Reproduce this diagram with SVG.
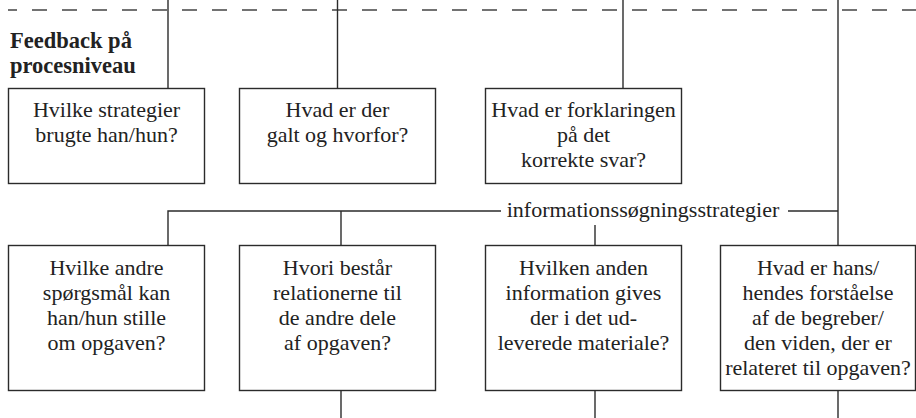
<svg xmlns="http://www.w3.org/2000/svg" width="916" height="418" viewBox="0 0 916 418">
<style>
.box{fill:#fff;stroke:#2b2b2b;stroke-width:1.4}
.ln{fill:none;stroke:#2b2b2b;stroke-width:1.4}
.dash{fill:none;stroke:#444;stroke-width:1.4;stroke-dasharray:15 15;stroke-dashoffset:6}
text{font-family:'Liberation Serif','Times New Roman','DejaVu Serif',serif;fill:#222}
.t{font-size:22px;text-anchor:middle}
.title{font-size:22.5px;font-weight:bold}
</style>
<rect width="916" height="418" fill="#fff"/>
<g id="connectors">
<line class="dash" x1="8" y1="10" x2="916" y2="10"/>
<line class="ln" x1="168" y1="0" x2="168" y2="88"/>
<line class="ln" x1="337.5" y1="0" x2="337.5" y2="88"/>
<line class="ln" x1="623" y1="0" x2="623" y2="88"/>
<line class="ln" x1="838" y1="0" x2="838" y2="245"/>
<polyline class="ln" points="168,245 168,211 501,211"/>
<line class="ln" x1="341" y1="211" x2="341" y2="245"/>
<line class="ln" x1="788" y1="211" x2="838" y2="211"/>
<line class="ln" x1="595" y1="225" x2="595" y2="245"/>
<line class="ln" x1="341" y1="391" x2="341" y2="418"/>
<line class="ln" x1="595" y1="391" x2="595" y2="418"/>
<line class="ln" x1="838" y1="391" x2="838" y2="418"/>
<text class="t" x="643" y="217">informationssøgningsstrategier</text>
</g>
<g id="title">
<text class="title" x="10" y="48">Feedback på</text>
<text class="title" x="10" y="73">procesniveau</text>
</g>
<g id="n1">
<rect class="box" x="8.5" y="88.5" width="196" height="95"/>
<text class="t" x="106.5" y="117">Hvilke strategier</text>
<text class="t" x="106.5" y="142">brugte han/hun?</text>
</g>
<g id="n2">
<rect class="box" x="239.5" y="88.5" width="196" height="95"/>
<text class="t" x="337.5" y="117">Hvad er der</text>
<text class="t" x="337.5" y="142">galt og hvorfor?</text>
</g>
<g id="n3">
<rect class="box" x="485.5" y="88.5" width="196" height="95"/>
<text class="t" x="583.5" y="117">Hvad er forklaringen</text>
<text class="t" x="583.5" y="142">på det</text>
<text class="t" x="583.5" y="167">korrekte svar?</text>
</g>
<g id="n4">
<rect class="box" x="8.5" y="245.5" width="196" height="145"/>
<text class="t" x="106.5" y="275">Hvilke andre</text>
<text class="t" x="106.5" y="300">spørgsmål kan</text>
<text class="t" x="106.5" y="325">han/hun stille</text>
<text class="t" x="106.5" y="350">om opgaven?</text>
</g>
<g id="n5">
<rect class="box" x="239.5" y="245.5" width="196" height="145"/>
<text class="t" x="337.5" y="275">Hvori består</text>
<text class="t" x="337.5" y="300">relationerne til</text>
<text class="t" x="337.5" y="325">de andre dele</text>
<text class="t" x="337.5" y="350">af opgaven?</text>
</g>
<g id="n6">
<rect class="box" x="485.5" y="245.5" width="196" height="145"/>
<text class="t" x="583.5" y="275">Hvilken anden</text>
<text class="t" x="583.5" y="300">information gives</text>
<text class="t" x="583.5" y="325">der i det ud-</text>
<text class="t" x="583.5" y="350">leverede materiale?</text>
</g>
<g id="n7">
<rect class="box" x="720.5" y="245.5" width="195" height="145"/>
<text class="t" x="818" y="275">Hvad er hans/</text>
<text class="t" x="818" y="300">hendes forståelse</text>
<text class="t" x="818" y="325">af de begreber/</text>
<text class="t" x="818" y="350">den viden, der er</text>
<text class="t" x="818" y="375">relateret til opgaven?</text>
</g>
</svg>
